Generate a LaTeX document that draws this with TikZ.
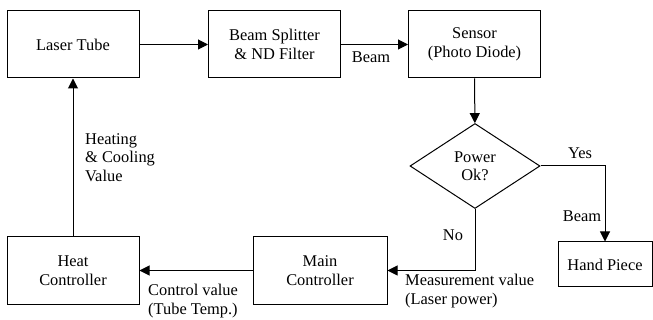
\documentclass[tikz,border=0pt]{standalone}
\usepackage{fontspec}
\setmainfont{Liberation Serif}
\usepackage{tikz}
\usetikzlibrary{shapes,arrows,positioning,calc,arrows.meta}

\tikzset{
  block/.style={draw, line width=1pt, align=center, minimum width=132pt, minimum height=67pt, inner sep=2pt},
  decision/.style={draw, diamond, line width=1pt, align=center, minimum width=130pt, minimum height=85pt, inner sep=0pt},
  flow/.style={line width=1pt, -{Triangle[length=10pt,width=10pt]}},
  lbl/.style={align=left, inner sep=0pt}
}

\begin{document}
\begin{tikzpicture}[x=1pt, y=-1pt, font=\fontsize{16.4}{18.5}\selectfont]
\useasboundingbox (0,0) rectangle (653,320);
% top row
\node[block] (laser) at (73,44.5) {Laser Tube};
\node[block] (splitter) at (274.5,44.5) {Beam Splitter\\\& ND Filter};
\node[block] (sensor) at (474.5,44.5) {Sensor\\(Photo Diode)};
% decision
\node[decision] (power) at (475,166) {Power\\Ok?};
% bottom row
\node[block, minimum width=94pt, minimum height=45pt] (hand) at (605,264.5) {Hand Piece};
\node[block, minimum width=134pt] (main) at (320,270.5) {Main\\Controller};
\node[block] (heat) at (73,270.5) {Heat\\Controller};

\draw[flow] (laser) -- (splitter);
\draw[flow] (splitter) -- (sensor);
\draw[flow] (sensor) -- (power);
\draw[flow] (power.east) -| (hand.north);
\draw[flow] (power.south) |- (main.east);
\draw[flow] (main) -- (heat);
\draw[flow] (heat) -- (laser);

% labels
\node[lbl] (beam1) at (371,57) {Beam};
\node[lbl] (yes) at (580,153) {Yes};
\node[lbl] (beam2) at (582,216) {Beam};
\node[lbl] (no) at (453,235) {No};
\node[lbl, anchor=north west] (meas) at (405,274) {Measurement value\\(Laser power)};
\node[lbl, anchor=north west] (ctrl) at (148,284) {Control value\\(Tube Temp.)};
\node[lbl, anchor=north west] (heating) at (85,133) {Heating\\\& Cooling\\Value};
\end{tikzpicture}
\end{document}
